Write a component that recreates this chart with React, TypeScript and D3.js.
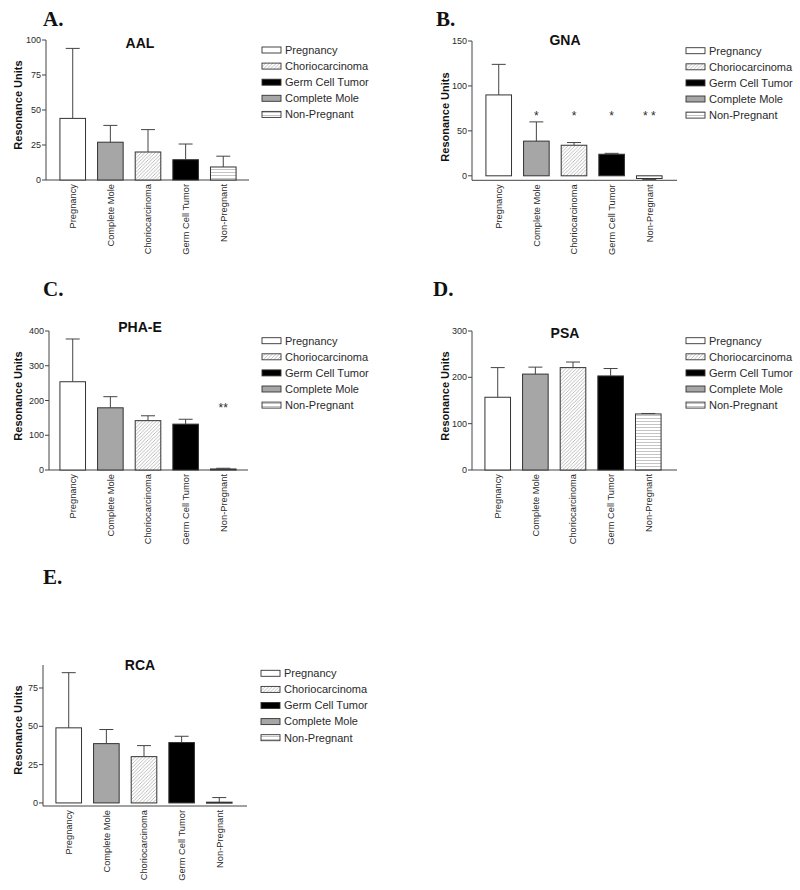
import React from "react";
import * as d3 from "d3";

const categories = ["Pregnancy", "Complete Mole", "Choriocarcinoma", "Germ Cell Tumor", "Non-Pregnant"];
const legendOrder = ["Pregnancy", "Choriocarcinoma", "Germ Cell Tumor", "Complete Mole", "Non-Pregnant"];

const aalMeans = [44, 27, 20, 14.5, 9.3];
const aalErrors = [50, 12, 16, 11.2, 7.7];
const aalTicks = [0, 25, 50, 75, 100];

const gnaMeans = [90, 38.6, 34, 24, -3];
const gnaErrors = [34, 21.4, 3, 1, 1];
const gnaTicks = [0, 50, 100, 150];
const gnaStars = ["", "*", "*", "*", "* *"];

const phaMeans = [254, 179, 142, 132, 3];
const phaErrors = [123, 32, 14, 14, 2];
const phaTicks = [0, 100, 200, 300, 400];
const phaStars = ["", "", "", "", "**"];

const psaMeans = [157, 207, 221, 203, 121];
const psaErrors = [64, 15, 12, 16, 1];
const psaTicks = [0, 100, 200, 300];

const rcaMeans = [49, 38.7, 30.2, 39.4, 0.5];
const rcaErrors = [36, 9.2, 7.2, 4.1, 3];
const rcaTicks = [0, 25, 50, 75];

const fills: Record<string, string> = {
  "Pregnancy": "#ffffff",
  "Complete Mole": "#a6a6a6",
  "Choriocarcinoma": "url(#hatch)",
  "Germ Cell Tumor": "#000000",
  "Non-Pregnant": "url(#hstripe)",
};

type PanelProps = {
  letter: string;
  title: string;
  means: number[];
  errors: number[];
  ticks: number[];
  stars?: string[];
  domain: [number, number];
  yRange: [number, number];
  axisX: number;
  axisEnd: number;
  band: [number, number];
  letterPos: [number, number];
  titleX: number;
  titleY: number;
  labelX: number;
  labelY: number;
  legendX: number;
  legendY: number;
  starY?: number;
};

const SANS = "Liberation Sans, Arial, Helvetica, sans-serif";
const INK = "#2a2a2a";

function Panel(p: PanelProps) {
  const y = d3.scaleLinear().domain(p.domain).range(p.yRange);
  const x = d3.scaleBand<string>().domain(categories).range(p.band).paddingInner(0.32).paddingOuter(0.37);
  const bw = x.bandwidth();
  const y0 = y(0);
  const axisY = y(p.domain[0]);
  return (
    <g>
      <text x={p.letterPos[0]} y={p.letterPos[1]} fontFamily="Liberation Serif, Times New Roman, serif" fontWeight="bold" fontSize={21} fill="#111">{p.letter}</text>
      <text x={p.titleX} y={p.titleY} textAnchor="middle" fontFamily={SANS} fontWeight="bold" fontSize={14} fill="#111">{p.title}</text>
      <text transform={`translate(${p.labelX},${p.labelY}) rotate(-90)`} textAnchor="middle" dy="0.35em" fontFamily={SANS} fontWeight="bold" fontSize={11} fill="#111">Resonance Units</text>
      <line x1={p.axisX} x2={p.axisX} y1={axisY} y2={y(p.domain[1])} stroke="#444" strokeWidth={1} />
      <line x1={p.axisX} x2={p.axisEnd} y1={axisY} y2={axisY} stroke="#444" strokeWidth={1} />
      {p.ticks.map((t) => (
        <g key={t}>
          <line x1={p.axisX - 4} x2={p.axisX} y1={y(t)} y2={y(t)} stroke="#444" strokeWidth={1} />
          <text x={p.axisX - 5} y={y(t)} dy="0.35em" textAnchor="end" fontFamily={SANS} fontSize={9} fill={INK}>{t}</text>
        </g>
      ))}
      {categories.map((c, i) => {
        const m = p.means[i];
        const e = p.errors[i];
        const bx = x(c)!;
        const cx = bx + bw / 2;
        const ym = y(m);
        const ye = y(m + (m >= 0 ? e : -e));
        return (
          <g key={c}>
            <rect x={bx} y={Math.min(y0, ym)} width={bw} height={Math.max(1, Math.abs(y0 - ym))} fill={fills[c]} stroke="#333" strokeWidth={1} />
            <line x1={cx} x2={cx} y1={ym} y2={ye} stroke="#444" strokeWidth={1} />
            <line x1={cx - 7} x2={cx + 7} y1={ye} y2={ye} stroke="#444" strokeWidth={1} />
            {p.stars && p.stars[i] ? (
              <text x={cx} y={p.starY} textAnchor="middle" fontFamily={SANS} fontSize={12} fill={INK}>{p.stars[i]}</text>
            ) : null}
            <text transform={`translate(${cx},${axisY + 4}) rotate(-90)`} textAnchor="end" dy="0.35em" fontFamily={SANS} fontSize={9.3} fill={INK}>{c}</text>
          </g>
        );
      })}
      {legendOrder.map((c, i) => {
        const ly = p.legendY + i * 16.1;
        return (
          <g key={c}>
            <rect x={p.legendX} y={ly - 3} width={19} height={6} fill={fills[c]} stroke="#333" strokeWidth={0.9} />
            <text x={p.legendX + 23} y={ly} dy="0.35em" fontFamily={SANS} fontSize={11} fill={INK}>{c}</text>
          </g>
        );
      })}
    </g>
  );
}

export default function App() {
  return (
    <svg width={800} height={890} style={{ position: "absolute", left: 0, top: 0, background: "#fff" }}>
      <defs>
        <pattern id="hatch" patternUnits="userSpaceOnUse" width={3.5} height={3.5}>
          <rect width={3.5} height={3.5} fill="#fff" />
          <path d="M-1,1 l2,-2 M0,3.5 l3.5,-3.5 M2.5,4.5 l2,-2" stroke="#a0a0a0" strokeWidth={0.7} />
        </pattern>
        <pattern id="hstripe" patternUnits="userSpaceOnUse" width={4} height={3}>
          <rect width={4} height={3} fill="#fff" />
          <line x1={0} x2={4} y1={1.5} y2={1.5} stroke="#aaa" strokeWidth={0.7} />
        </pattern>
      </defs>
      <Panel letter="A." title="AAL" means={aalMeans} errors={aalErrors} ticks={aalTicks}
        domain={[0, 100]} yRange={[180, 40]} axisX={46} axisEnd={249} band={[46, 250]}
        letterPos={[43, 26]} titleX={140} titleY={48} labelX={18} labelY={105}
        legendX={262} legendY={50} />
      <Panel letter="B." title="GNA" means={gnaMeans} errors={gnaErrors} ticks={gnaTicks} stars={gnaStars} starY={120}
        domain={[-5, 150]} yRange={[180.3, 41]} axisX={472} axisEnd={677} band={[472, 676]}
        letterPos={[436, 26]} titleX={565} titleY={45} labelX={445} labelY={117}
        legendX={686} legendY={50.7} />
      <Panel letter="C." title="PHA-E" means={phaMeans} errors={phaErrors} ticks={phaTicks} stars={phaStars} starY={412}
        domain={[0, 400]} yRange={[470, 331]} axisX={49} axisEnd={248} band={[46, 250]}
        letterPos={[43, 296]} titleX={140} titleY={331.5} labelX={18} labelY={396}
        legendX={262} legendY={340.7} />
      <Panel letter="D." title="PSA" means={psaMeans} errors={psaErrors} ticks={psaTicks}
        domain={[0, 300]} yRange={[470, 331]} axisX={472} axisEnd={677} band={[471, 675]}
        letterPos={[433, 296]} titleX={565} titleY={338} labelX={445} labelY={396}
        legendX={686} legendY={340.7} />
      <Panel letter="E." title="RCA" means={rcaMeans} errors={rcaErrors} ticks={rcaTicks}
        domain={[-2, 90]} yRange={[806, 665]} axisX={43} axisEnd={247} band={[42, 246]}
        letterPos={[43, 584]} titleX={140} titleY={670} labelX={18} labelY={730}
        legendX={261} legendY={673.3} />
    </svg>
  );
}
